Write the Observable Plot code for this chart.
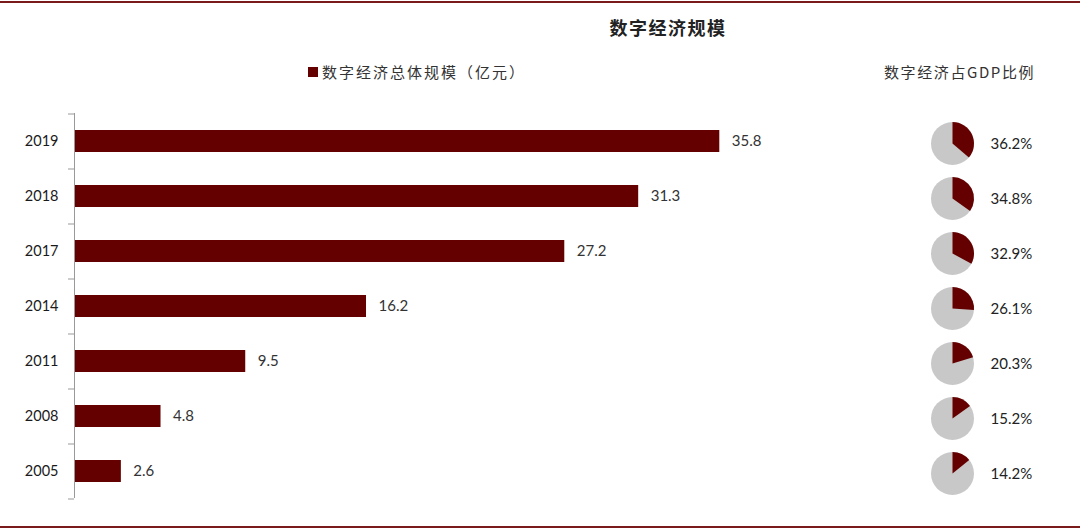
<!DOCTYPE html>
<html>
<head>
<meta charset="utf-8">
<script src="https://cdn.jsdelivr.net/npm/d3@7"></script>
<script src="https://cdn.jsdelivr.net/npm/@observablehq/plot@0.6"></script>
<style>
  html, body { margin: 0; padding: 0; background: #fff; }
  #wrap { position: relative; width: 1080px; height: 530px; overflow: hidden; font-family: "Noto Sans CJK SC", "Noto Sans", sans-serif; }
  .border { position: absolute; left: 0; width: 1080px; height: 2px; background: #7a1a1a; }
  #title { position: absolute; top: 14px; left: 560px; width: 216px; text-align: center; font-size: 18px; font-weight: bold; color: #222; letter-spacing: 1.5px; }
  #legend { position: absolute; top: 61px; left: 308px; font-size: 15px; color: #333; display: flex; align-items: center; letter-spacing: 2px; }
  #legend .sw { width: 10px; height: 10px; background: #650000; margin-right: 4px; display: inline-block; }
  #rhead { position: absolute; top: 61px; left: 884px; font-size: 15px; color: #333; letter-spacing: 1.6px; }
  #chart { position: absolute; top: 100px; left: 0; }
</style>
</head>
<body>
<div id="wrap">
  <div class="border" style="top:1px"></div>
  <div class="border" style="top:526px"></div>
  <div id="title"></div>
  <div id="legend"><span class="sw"></span><span id="legtext"></span></div>
  <div id="rhead"></div>
  <div id="chart"></div>
</div>
<script>
const titleText = "数字经济规模";
const legendText = "数字经济总体规模（亿元）";
const rightHeader = "数字经济占GDP比例";
const years = ["2019", "2018", "2017", "2014", "2011", "2008", "2005"];
const scaleValues = [35.8, 31.3, 27.2, 16.2, 9.5, 4.8, 2.6];
const gdpShare = [36.2, 34.8, 32.9, 26.1, 20.3, 15.2, 14.2];

const barColor = "#650000";
const pieGray = "#c8c8c8";

document.getElementById("title").textContent = titleText;
document.getElementById("legtext").textContent = legendText;
document.getElementById("rhead").textContent = rightHeader;

const data = years.map((y, i) => ({year: y, value: scaleValues[i], share: gdpShare[i]}));

const chart = Plot.plot({
  width: 1080,
  height: 430,
  marginTop: 13,
  marginBottom: 32,
  marginLeft: 74,
  marginRight: 285,
  style: {fontFamily: "Lato, 'Open Sans', sans-serif", fontSize: "14px", color: "#333"},
  x: {domain: [0, 40], axis: null},
  y: {domain: years, paddingInner: 0.6, paddingOuter: 0.3, label: null},
  marks: [
    Plot.barX(data, {y: "year", x: "value", fill: barColor}),
    Plot.ruleX([0], {stroke: "#999", strokeWidth: 1}),
    Plot.ruleY(data, {y: "year", x1: 0, x2: 0, insetLeft: -6, dy: -27.5, stroke: "#999"}),
    Plot.ruleY(data.slice(-1), {y: "year", x1: 0, x2: 0, insetLeft: -6, dy: 27.5, stroke: "#999"}),
    Plot.axisY({tickSize: 0, tickPadding: 16, fontSize: 14.5, fill: "#1a1a1a", label: null}),
    Plot.text(data, {y: "year", x: "value", text: d => d.value.toFixed(1), dx: 12, textAnchor: "start", fontSize: 15, fill: "#333"}),
    Plot.dot(data, {
      y: "year", frameAnchor: "right", dx: 157, dy: 2, r: 21.5, fill: pieGray, stroke: "none",
      render(index, scales, values, dimensions, context, next) {
        const g = next(index, scales, values, dimensions, context);
        const circles = g.querySelectorAll("circle");
        const arc = d3.arc().innerRadius(0).outerRadius(21.5);
        index.forEach((i, k) => {
          const c = circles[k];
          if (!c) return;
          const cx = +c.getAttribute("cx") || 0;
          const cy = +c.getAttribute("cy") || 0;
          const path = document.createElementNS("http://www.w3.org/2000/svg", "path");
          path.setAttribute("d", arc({startAngle: 0, endAngle: 2 * Math.PI * data[i].share / 100}));
          path.setAttribute("transform", `translate(${cx},${cy})`);
          path.setAttribute("fill", barColor);
          c.parentNode.appendChild(path);
        });
        return g;
      }
    }),
    Plot.text(data, {y: "year", frameAnchor: "right", dx: 195, dy: 2.5, text: d => d.share.toFixed(1) + "%", textAnchor: "start", fontSize: 15, fill: "#222"})
  ]
});
document.getElementById("chart").appendChild(chart);
</script>
</body>
</html>
